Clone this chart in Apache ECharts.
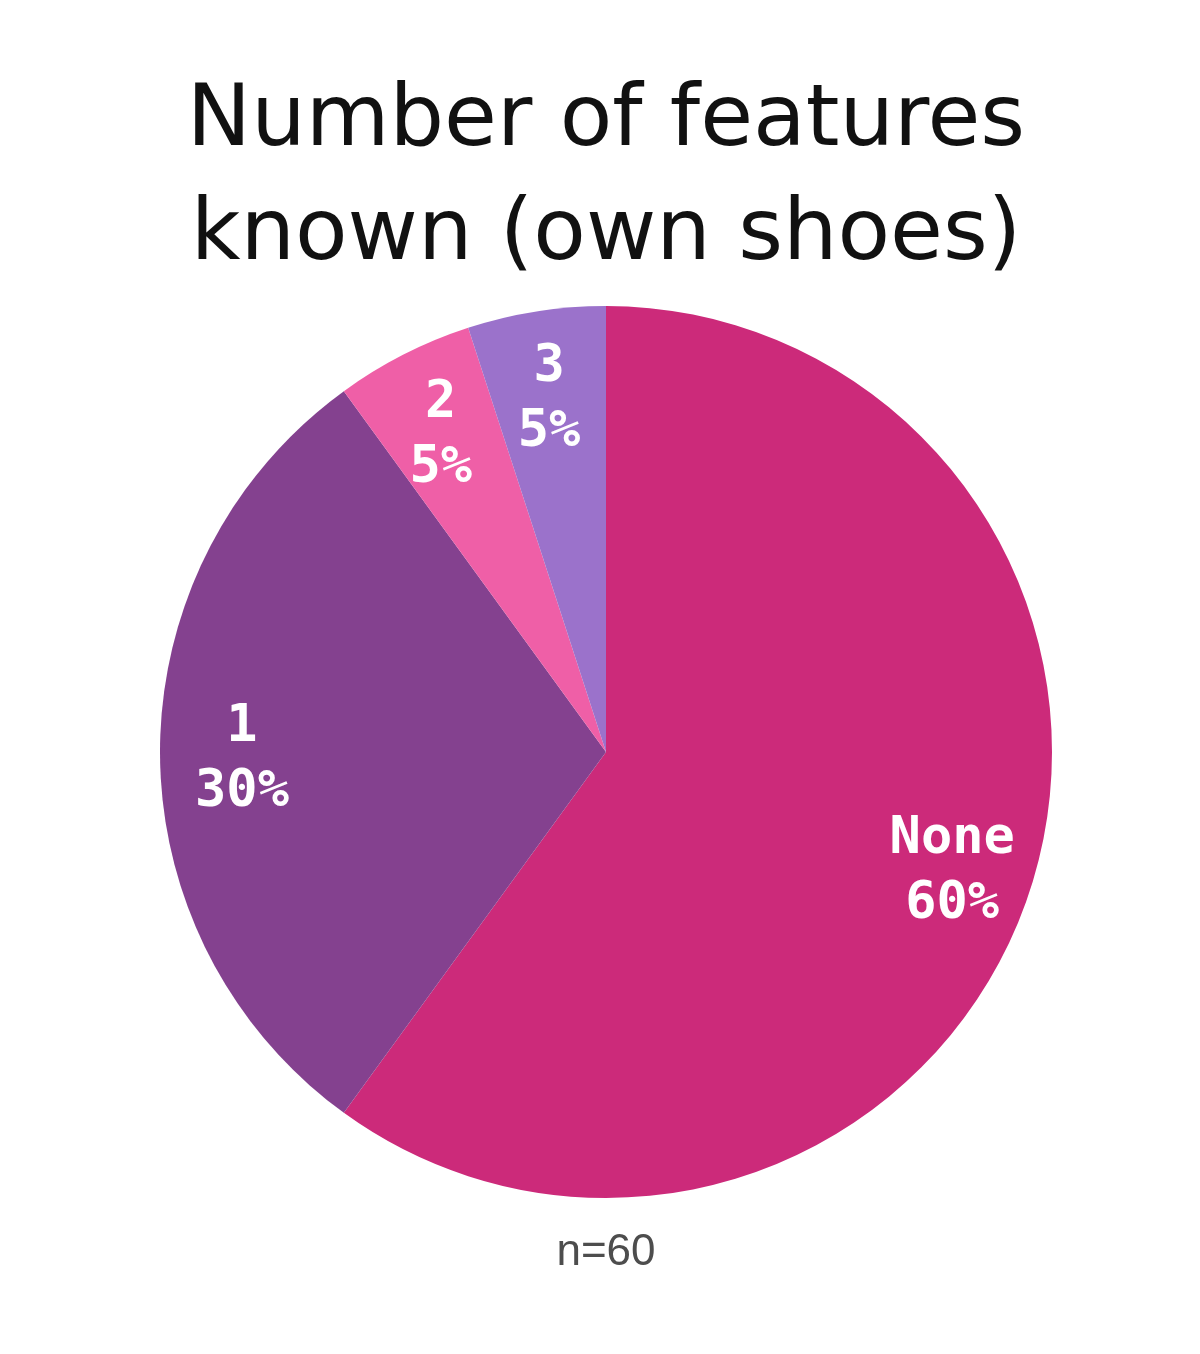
<!DOCTYPE html>
<html>
<head>
<meta charset="UTF-8">
<title>Number of features known (own shoes)</title>
<script type="text/javascript" src="https://cdn.jsdelivr.net/npm/echarts@6/dist/echarts.min.js"></script>
<style>
  html, body { margin: 0; padding: 0; background: #fff; }
</style>
</head>
<body>
	<div id="pieChart" style="width: 1200px; height: 1354px;"></div>

	<script type="text/javascript">
	var categories = ['None', '1', '2', '3'];
	var shares = [60, 30, 5, 5];
	var colors = ['#CC2A7A', '#84418F', '#EF5FA7', '#9B72CB'];
	var titleLines = ['Number of features', 'known (own shoes)'];
	var sampleNote = 'n=60';

	var pieData = [];
	for (var i = 0; i < categories.length; i++) {
		pieData.push({ name: categories[i], value: shares[i], itemStyle: { color: colors[i] } });
	}

	var chart = echarts.init(document.getElementById('pieChart'));

	var option = {
		animation: false,
		graphic: [{
			type: 'text',
			x: 606,
			y: 66,
			style: {
				text: titleLines.join('\n'),
				align: 'center',
				verticalAlign: 'top',
				fontFamily: 'DejaVu Sans',
				fontWeight: 'normal',
				fontSize: 86,
				lineHeight: 114,
				fill: '#111'
			}
		}, {
			type: 'text',
			x: 606,
			y: 1253,
			style: {
				text: sampleNote,
				align: 'center',
				verticalAlign: 'middle',
				fontFamily: 'Liberation Sans',
				fontSize: 44,
				fill: '#4d4d4d'
			}
		}],
		series: [{
			// the visible slices
			type: 'pie',
			center: [606, 752],
			radius: [0, 446],
			startAngle: 90,
			clockwise: true,
			silent: true,
			label: { show: false },
			labelLine: { show: false },
			data: pieData
		}, {
			// transparent ring used only to place labels at ~0.8 of the radius
			type: 'pie',
			center: [606, 752],
			radius: [276, 446],
			startAngle: 90,
			clockwise: true,
			silent: true,
			itemStyle: { color: 'rgba(0,0,0,0)' },
			label: {
				show: true,
				position: 'inside',
				offset: [0, 8],
				formatter: function (p) { return p.name + '\n' + p.value + '%'; },
				fontFamily: 'DejaVu Sans Mono',
				fontWeight: 'bold',
				fontSize: 52,
				lineHeight: 65,
				color: '#fff'
			},
			labelLine: { show: false },
			data: categories.map(function (c, i) { return { name: c, value: shares[i] }; })
		}]
	};

	chart.setOption(option);
	</script>
</body>
</html>
